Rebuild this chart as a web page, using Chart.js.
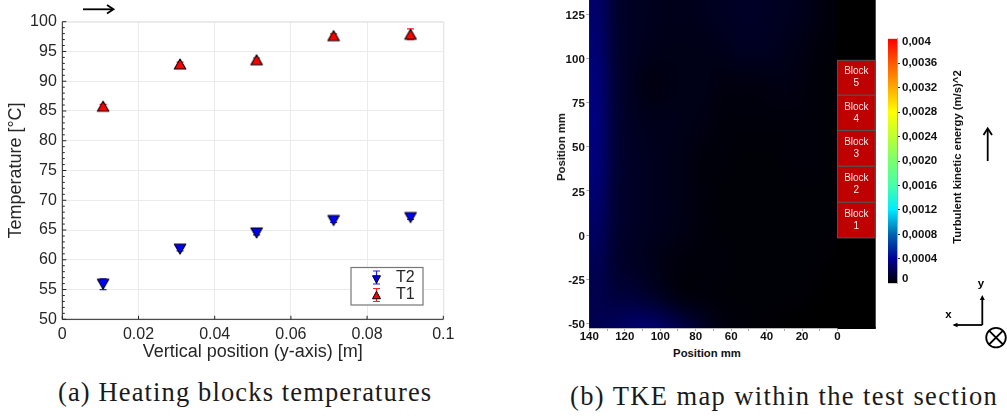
<!DOCTYPE html>
<html>
<head>
<meta charset="utf-8">
<title>Heating blocks temperatures and TKE map</title>
<script src="https://cdn.jsdelivr.net/npm/chart.js@4"></script>
<style>
html,body{margin:0;padding:0;background:#fff;width:1007px;height:416px;overflow:hidden}
canvas{position:absolute}
.t{position:absolute;white-space:nowrap;font-family:"Liberation Sans",sans-serif;color:#111}
.cap{position:absolute;white-space:nowrap;font-family:"Liberation Serif",serif;font-size:26.5px;color:#1a1a1a;line-height:30px}
.lab{font-weight:bold;font-size:11.3px;line-height:14px}
.rot{transform:translate(-50%,-50%) rotate(-90deg)}
svg{position:absolute;left:0;top:0}
</style>
</head>
<body>
<canvas id="left" style="left:0;top:0;width:460px;height:370px"></canvas>
<canvas id="right" style="left:540px;top:0;width:340px;height:345px"></canvas>
<canvas id="bar" style="left:880px;top:0;width:80px;height:300px"></canvas>
<div class="t lab" style="left:707px;top:353px;transform:translate(-50%,-50%)">Position mm</div>
<div class="t lab rot" style="left:560.5px;top:147px">Position mm</div>
<div class="t lab rot" style="left:956.5px;top:157px">Turbulent kinetic energy (m/s)^2</div>
<div class="cap" style="left:58px;top:377px;letter-spacing:1.13px">(a) Heating blocks temperatures</div>
<div class="cap" style="left:570px;top:381px;letter-spacing:1.4px">(b) TKE map within the test section</div>
<svg width="1007" height="416" viewBox="0 0 1007 416">
  <g fill="none" stroke="#000" stroke-width="1.8">
    <path d="M83 9.3H112"/><path d="M107 5L113.5 9.3L107 13.5"/>
    <path d="M987.7 161V130"/><path d="M983.5 135L987.7 128.5L992 135"/>
    <path d="M982.3 325V298"/><path d="M954 325H982.3"/>
    <circle cx="996" cy="337.6" r="9.8"/>
    <path d="M989 330.7L1003 344.5M1003 330.7L989 344.5"/>
  </g>
  <path d="M982.3 295L979.8 300H984.8Z M952.5 325L957.5 322.7V327.3Z" fill="#000"/>
  <text x="981" y="287" text-anchor="middle" font-family="Liberation Sans" font-weight="bold" font-size="11.5">y</text>
  <text x="948.5" y="318" text-anchor="middle" font-family="Liberation Sans" font-weight="bold" font-size="11.5">x</text>
</svg>
<script>
// ---- Panel (a): heating block temperatures ----
const positions = [0.0107, 0.0309, 0.0510, 0.0712, 0.0914];
const t1Values = [85.8, 92.9, 93.6, 97.65, 97.9];
const t1Errors = [0.3, 0.3, 0.3, 0.3, 0.9];
const t2Values = [55.9, 61.8, 64.5, 66.6, 67.1];
const t2Errors = [0.9, 0.3, 0.3, 0.3, 0.3];
const xTicksA = [0, 0.02, 0.04, 0.06, 0.08, 0.1];
const xTickLabelsA = ['0', '0.02', '0.04', '0.06', '0.08', '0.1'];
const yTicksA = [50, 55, 60, 65, 70, 75, 80, 85, 90, 95, 100];
const yMinorA = [51,52,53,54,56,57,58,59,61,62,63,64,66,67,68,69,71,72,73,74,76,77,78,79,81,82,83,84,86,87,88,89,91,92,93,94,96,97,98,99];

// ---- Panel (b): TKE map, values in units of 1e-4 (m/s)^2 ----
const mapColumns = [135,125,115,105,95,85,75,65,55,45,35,25,15,5];
const mapRows = [125,105,85,65,45,25,5,-15,-35,-55];
const mapRow125 = [2.8,1.3,0.9,0.8,0.7,0.7,0.8,0.9,1.0,1.0,0.9,0.8,0.6,0.3];
const mapRow105 = [3.0,1.3,0.9,0.7,0.6,0.6,0.6,0.7,0.9,0.9,0.8,0.6,0.4,0.2];
const mapRow85  = [3.2,1.4,0.8,0.4,0.5,0.6,0.6,0.4,0.4,0.4,0.5,0.5,0.3,0.2];
const mapRow65  = [3.3,1.4,0.9,0.7,0.7,0.6,0.5,0.3,0.3,0.3,0.3,0.3,0.3,0.2];
const mapRow45  = [3.2,1.4,1.0,0.8,0.7,0.5,0.3,0.3,0.2,0.2,0.2,0.3,0.3,0.2];
const mapRow25  = [3.0,1.3,1.0,0.8,0.7,0.5,0.3,0.2,0.2,0.2,0.2,0.2,0.2,0.2];
const mapRow5   = [2.6,1.3,1.0,0.8,0.7,0.5,0.3,0.2,0.2,0.2,0.2,0.2,0.2,0.2];
const mapRowM15 = [2.2,1.2,0.9,0.7,0.4,0.3,0.3,0.3,0.2,0.2,0.2,0.2,0.2,0.1];
const mapRowM35 = [2.0,1.6,1.5,1.1,0.6,0.3,0.3,0.2,0.2,0.2,0.2,0.2,0.1,0.0];
const mapRowM55 = [2.2,2.6,3.0,3.2,2.6,1.8,1.0,0.5,0.3,0.2,0.1,0.0,0.0,0.0];
const mapValues = [mapRow125,mapRow105,mapRow85,mapRow65,mapRow45,mapRow25,mapRow5,mapRowM15,mapRowM35,mapRowM55];
const xTicksB = [140,130,120,110,100,90,80,70,60,50,40,30,20,10,0];
const yTicksB = [-50,-25,0,25,50,75,100,125];
const blockNames = ['Block 1','Block 2','Block 3','Block 4','Block 5'];
const blockFrom = [-1.6, 18.7, 39.1, 59.3, 79.4];
const blockTo = [18.7, 39.1, 59.3, 79.4, 99.1];

// ---- Colour bar ----
const barTickPositions = [0.00007,0.0004,0.0008,0.0012,0.0016,0.0020,0.0024,0.0028,0.0032,0.0036,0.00395];
const barTickLabels = ['0','0,0004','0,0008','0,0012','0,0016','0,0020','0,0024','0,0028','0,0032','0,0036','0,004'];
const colorStops = [[0,'rgb(0,0,0)'],[0.1,'rgb(0,0,150)'],[0.2,'rgb(0,100,175)'],[0.3,'rgb(0,235,255)'],[0.4,'rgb(70,255,170)'],[0.5,'rgb(120,255,110)'],[0.6,'rgb(190,255,50)'],[0.7,'rgb(255,255,0)'],[0.8,'rgb(255,170,0)'],[0.9,'rgb(255,90,0)'],[1,'rgb(255,0,0)']];

const sans = '"Liberation Sans", sans-serif';
const ink = '#262626';

function rgbAt(f){
  for(let i=1;i<colorStops.length;i++){
    if(f<=colorStops[i][0]){
      const a=colorStops[i-1], b=colorStops[i], k=(f-a[0])/(b[0]-a[0]);
      const ca=a[1].match(/\d+/g).map(Number), cb=b[1].match(/\d+/g).map(Number);
      return ca.map((c,n)=>Math.round(c+(cb[n]-c)*k));
    }
  }
  return [255,0,0];
}

function triangle(ctx,x,y,w,h,down,fill,lw){
  const s=down?-1:1;
  ctx.save();
  ctx.beginPath();ctx.moveTo(x,y-s*h/2);ctx.lineTo(x+w/2,y+s*h/2);ctx.lineTo(x-w/2,y+s*h/2);ctx.closePath();
  ctx.fillStyle=fill;ctx.fill();ctx.lineWidth=lw;ctx.lineJoin='round';ctx.strokeStyle='#000';ctx.stroke();ctx.restore();
}
function markerImage(down,fill){
  const c=document.createElement('canvas');c.width=18;c.height=18;
  triangle(c.getContext('2d'),9,9,11.5,10,down,fill,1.1);
  return c;
}
function errBar(ctx,x,y1,y2,color){
  ctx.save();ctx.strokeStyle=color;ctx.lineWidth=1.2;ctx.beginPath();
  ctx.moveTo(x,y1);ctx.lineTo(x,y2);ctx.moveTo(x-3.5,y1);ctx.lineTo(x+3.5,y1);ctx.moveTo(x-3.5,y2);ctx.lineTo(x+3.5,y2);ctx.stroke();ctx.restore();
}

const panelA = {
  id:'panelA',
  beforeDatasetsDraw(chart){
    const {ctx,scales:{x,y},chartArea:a}=chart;
    ctx.save();
    ctx.strokeStyle='#e4e4e4';ctx.lineWidth=1;ctx.strokeRect(a.left+.5,a.top+.5,a.width,a.height);
    ctx.strokeStyle=ink;ctx.beginPath();
    ctx.moveTo(a.left,a.top);ctx.lineTo(a.left,a.bottom);ctx.lineTo(a.right,a.bottom);ctx.stroke();
    ctx.beginPath();
    yTicksA.forEach(v=>{const p=y.getPixelForValue(v);ctx.moveTo(a.left,p);ctx.lineTo(a.left+4,p);});
    yMinorA.forEach(v=>{const p=y.getPixelForValue(v);ctx.moveTo(a.left,p);ctx.lineTo(a.left+2.5,p);});
    xTicksA.forEach(v=>{const p=x.getPixelForValue(v);ctx.moveTo(p,a.bottom);ctx.lineTo(p,a.bottom-3.5);});
    ctx.stroke();ctx.restore();
    positions.forEach((v,i)=>{
      const px=x.getPixelForValue(v);
      errBar(ctx,px,y.getPixelForValue(t1Values[i]-t1Errors[i]),y.getPixelForValue(t1Values[i]+t1Errors[i]),'#ff2020');
      errBar(ctx,px,y.getPixelForValue(t2Values[i]-t2Errors[i]),y.getPixelForValue(t2Values[i]+t2Errors[i]),'#2020ff');
    });
  },
  afterDatasetsDraw(chart){
    const {ctx}=chart;
    ctx.save();
    ctx.fillStyle='#fff';ctx.fillRect(351,267.5,72,37.5);
    ctx.strokeStyle='#777';ctx.lineWidth=1.2;ctx.strokeRect(351,267.5,72,37.5);
    errBar(ctx,376.5,271,284,'#2020ff');
    triangle(ctx,376.5,279.5,8,7.5,true,'#0000ff',1);
    errBar(ctx,376.5,288.5,301.5,'#ff2020');
    triangle(ctx,376.5,295,8,7.5,false,'#ff0000',1);
    ctx.fillStyle=ink;ctx.font='16px '+sans;ctx.textBaseline='middle';ctx.textAlign='left';
    ctx.fillText(chart.data.datasets[0].label,396,277.5);
    ctx.fillText(chart.data.datasets[1].label,396,295);
    ctx.restore();
  }
};

new Chart(document.getElementById('left'),{
  type:'scatter',
  data:{datasets:[
    {label:'T2',data:positions.map((x,i)=>({x,y:t2Values[i]})),pointStyle:markerImage(true,'#0000ff')},
    {label:'T1',data:positions.map((x,i)=>({x,y:t1Values[i]})),pointStyle:markerImage(false,'#ff0000')}
  ]},
  options:{
    responsive:false,animation:false,devicePixelRatio:1,
    layout:{padding:{top:21.7,right:16.7,left:0,bottom:0}},
    plugins:{legend:{display:false},tooltip:{enabled:false}},
    scales:{
      x:{type:'linear',min:0,max:0.1,
        afterBuildTicks(s){s.ticks=xTicksA.map(value=>({value}));},
        afterFit(s){s.height=50.7;s.paddingLeft=0;s.paddingRight=0;},
        grid:{color:'#ebebeb',drawTicks:false},border:{display:false},
        ticks:{padding:6,maxRotation:0,autoSkip:false,color:ink,font:{family:sans,size:16},callback:(v,i)=>xTickLabelsA[i]},
        title:{display:true,text:'Vertical position (y-axis) [m]',color:ink,font:{family:sans,size:18},padding:{top:0,bottom:7}}},
      y:{type:'linear',min:50,max:100,
        afterBuildTicks(s){s.ticks=yTicksA.map(value=>({value}));},
        afterFit(s){s.width=62.3;s.paddingTop=0;s.paddingBottom=0;},
        grid:{color:'#ebebeb',drawTicks:false},border:{display:false},
        ticks:{padding:5.5,autoSkip:false,color:ink,font:{family:sans,size:16},callback:v=>String(v)},
        title:{display:true,text:'Temperature [°C]',color:ink,font:{family:sans,size:18},padding:{top:5,bottom:0}}}
    }
  },
  plugins:[panelA]
}).resize(460,370);

const panelB = {
  id:'panelB',
  beforeDatasetsDraw(chart){
    const {ctx,scales:{x,y},chartArea:a}=chart;
    ctx.save();
    ctx.fillStyle='#000';ctx.fillRect(a.left,a.top,a.width,a.height);
    ctx.fillRect(x.getPixelForValue(0),a.bottom-1,a.right-x.getPixelForValue(0),2);
    const off=document.createElement('canvas');off.width=mapColumns.length;off.height=mapRows.length;
    const oc=off.getContext('2d');
    const img=oc.createImageData(off.width,off.height);
    chart.data.datasets[0].data.forEach(d=>{
      const c=rgbAt(d.v/40),i=(d.row*off.width+d.col)*4;
      img.data[i]=c[0];img.data[i+1]=c[1];img.data[i+2]=c[2];img.data[i+3]=255;
    });
    oc.putImageData(img,0,0);
    ctx.beginPath();ctx.rect(a.left,a.top,x.getPixelForValue(0)-a.left,a.height);ctx.clip();
    ctx.imageSmoothingEnabled=true;ctx.imageSmoothingQuality='high';
    const l=x.getPixelForValue(140),r=x.getPixelForValue(0),t=y.getPixelForValue(135),b=y.getPixelForValue(-65);
    ctx.drawImage(off,l,t,r-l,b-t);
    ctx.restore();
    ctx.save();
    const bl=x.getPixelForValue(0),br=x.getPixelForValue(-21.2);
    blockNames.forEach((name,i)=>{
      const top=y.getPixelForValue(blockTo[i]),bot=y.getPixelForValue(blockFrom[i]);
      ctx.fillStyle='#be0000';ctx.fillRect(bl,top,br-bl,bot-top);
      ctx.strokeStyle='#555';ctx.lineWidth=1;ctx.strokeRect(bl,top,br-bl,bot-top);
      const parts=name.split(' '),mid=(bl+br)/2,cy=(top+bot)/2;
      ctx.fillStyle='#f4eaea';ctx.font='10px '+sans;ctx.textAlign='center';ctx.textBaseline='middle';
      ctx.fillText(parts[0],mid,cy-6);ctx.fillText(parts[1],mid,cy+6);
    });
    ctx.restore();
  }
};

const mapPoints=[];
mapRows.forEach((yv,row)=>mapColumns.forEach((xv,col)=>mapPoints.push({x:xv,y:yv,v:mapValues[row][col],row,col})));

new Chart(document.getElementById('right'),{
  type:'scatter',
  data:{datasets:[{label:'TKE',data:mapPoints,pointRadius:0,pointHoverRadius:0}]},
  options:{
    responsive:false,animation:false,devicePixelRatio:1,
    layout:{padding:{top:0,right:4.3,left:0,bottom:0}},
    plugins:{legend:{display:false},tooltip:{enabled:false}},
    scales:{
      x:{type:'linear',min:-21.5,max:140,reverse:true,
        afterBuildTicks(s){s.ticks=xTicksB.map(value=>({value}));},
        afterFit(s){s.height=17;s.paddingLeft=0;s.paddingRight=0;},
        grid:{drawOnChartArea:false,color:'#aaa',tickLength:3},border:{color:'#bbb'},
        ticks:{padding:-1.5,maxRotation:0,autoSkip:false,color:'#111',font:{family:sans,size:11.5,weight:'bold'},callback:v=>v%20===0?String(v):''}},
      y:{type:'linear',min:-52.7,max:133.3,
        afterBuildTicks(s){s.ticks=yTicksB.map(value=>({value}));},
        afterFit(s){s.width=0;s.paddingTop=0;s.paddingBottom=0;},
        grid:{drawOnChartArea:false,color:'#aaa',tickLength:3},border:{color:'#bbb'},
        ticks:{display:false}},
      // label-only axis: the reference prints its labels about 1.5 px below the tick marks
      yLabels:{type:'linear',position:'left',min:-51.9,max:134.1,
        afterBuildTicks(s){s.ticks=yTicksB.map(value=>({value}));},
        afterFit(s){s.width=49.3;s.paddingTop=0;s.paddingBottom=0;},
        grid:{display:false,drawTicks:false,tickLength:0},border:{display:false},
        ticks:{padding:4.5,autoSkip:false,color:'#111',font:{family:sans,size:11.5,weight:'bold'},callback:v=>String(v)}}
    }
  },
  plugins:[panelB]
}).resize(340,345);

new Chart(document.getElementById('bar'),{
  type:'bar',
  data:{labels:['TKE'],datasets:[{data:[[0,0.004]],barPercentage:1,categoryPercentage:1,borderWidth:0,
    backgroundColor(c){
      const a=c.chart.chartArea;if(!a)return '#000';
      const g=c.chart.ctx.createLinearGradient(0,a.bottom,0,a.top);
      colorStops.forEach(s=>g.addColorStop(s[0],s[1]));return g;
    }}]},
  options:{
    responsive:false,animation:false,devicePixelRatio:1,
    layout:{padding:{top:38.7,bottom:16.7,left:8,right:0}},
    plugins:{legend:{display:false},tooltip:{enabled:false}},
    scales:{
      x:{display:false},
      y:{type:'linear',position:'right',min:0,max:0.004,
        afterBuildTicks(s){s.ticks=barTickPositions.map(value=>({value}));},
        afterFit(s){s.width=63;s.paddingTop=0;s.paddingBottom=0;},
        grid:{drawOnChartArea:false,tickLength:3,color:c=>(c.index===0||c.index===barTickPositions.length-1)?'rgba(0,0,0,0)':'#333'},
        border:{color:'#aaa'},
        ticks:{padding:2,autoSkip:false,color:'#111',font:{family:sans,size:11.5,weight:'bold'},callback:(v,i)=>barTickLabels[i]}}
    }
  }
}).resize(80,300);
</script>
</body>
</html>
